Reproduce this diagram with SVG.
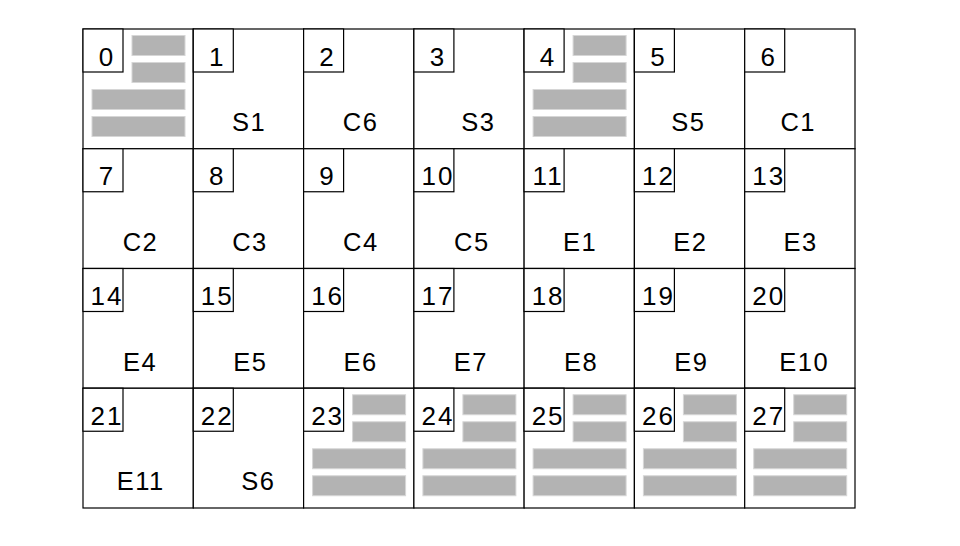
<svg xmlns="http://www.w3.org/2000/svg" xmlns:xlink="http://www.w3.org/1999/xlink" width="960" height="546" viewBox="0 0 960 546">
<style>
.cell{fill:#fff;stroke:#000;stroke-width:1.2}
.tag{fill:#fff;stroke:#000;stroke-width:1.2}
.num{font-family:"Liberation Sans",Arial,sans-serif;font-size:26px;letter-spacing:2px;fill:#000;text-anchor:middle}
.name{font-family:"Liberation Sans",Arial,sans-serif;font-size:25.5px;letter-spacing:1.5px;fill:#000;text-anchor:middle}
.bar{fill:#b3b3b3;stroke:#d6d6d6;stroke-width:1}
</style>
<defs>
<g id="bars">
<rect class="bar" x="49" y="6.5" width="53" height="20"/>
<rect class="bar" x="49" y="33.5" width="53" height="20"/>
<rect class="bar" x="9" y="60.5" width="93" height="20"/>
<rect class="bar" x="9" y="87.5" width="93" height="20"/>
</g>
</defs>
<rect x="0" y="0" width="960" height="546" fill="#fff"/>
<g id="connectors"/>
<g id="cell0" transform="translate(83,29)"><rect class="cell" width="110.3" height="119.75"/><use xlink:href="#bars" href="#bars"/><rect class="tag" width="40" height="43"/><text class="num" x="24" y="36.5">0</text></g>
<g id="cell1" transform="translate(193.3,29)"><rect class="cell" width="110.3" height="119.75"/><rect class="tag" width="40" height="43"/><text class="num" x="24" y="36.5">1</text><text class="name" x="55.9" y="102">S1</text></g>
<g id="cell2" transform="translate(303.6,29)"><rect class="cell" width="110.3" height="119.75"/><rect class="tag" width="40" height="43"/><text class="num" x="24" y="36.5">2</text><text class="name" x="57" y="102">C6</text></g>
<g id="cell3" transform="translate(413.9,29)"><rect class="cell" width="110.3" height="119.75"/><rect class="tag" width="40" height="43"/><text class="num" x="24" y="36.5">3</text><text class="name" x="64.5" y="102">S3</text></g>
<g id="cell4" transform="translate(524.1,29)"><rect class="cell" width="110.3" height="119.75"/><use xlink:href="#bars" href="#bars"/><rect class="tag" width="40" height="43"/><text class="num" x="24" y="36.5">4</text></g>
<g id="cell5" transform="translate(634.4,29)"><rect class="cell" width="110.3" height="119.75"/><rect class="tag" width="40" height="43"/><text class="num" x="24" y="36.5">5</text><text class="name" x="54" y="102">S5</text></g>
<g id="cell6" transform="translate(744.7,29)"><rect class="cell" width="110.3" height="119.75"/><rect class="tag" width="40" height="43"/><text class="num" x="24" y="36.5">6</text><text class="name" x="53.5" y="102">C1</text></g>

<g id="cell7" transform="translate(83,148.75)"><rect class="cell" width="110.3" height="119.75"/><rect class="tag" width="40" height="43"/><text class="num" x="24" y="36.5">7</text><text class="name" x="57.5" y="102">C2</text></g>
<g id="cell8" transform="translate(193.3,148.75)"><rect class="cell" width="110.3" height="119.75"/><rect class="tag" width="40" height="43"/><text class="num" x="24" y="36.5">8</text><text class="name" x="56.7" y="102">C3</text></g>
<g id="cell9" transform="translate(303.6,148.75)"><rect class="cell" width="110.3" height="119.75"/><rect class="tag" width="40" height="43"/><text class="num" x="24" y="36.5">9</text><text class="name" x="57.3" y="102">C4</text></g>
<g id="cell10" transform="translate(413.9,148.75)"><rect class="cell" width="110.3" height="119.75"/><rect class="tag" width="40" height="43"/><text class="num" x="24" y="36.5">10</text><text class="name" x="57.9" y="102">C5</text></g>
<g id="cell11" transform="translate(524.1,148.75)"><rect class="cell" width="110.3" height="119.75"/><rect class="tag" width="40" height="43"/><text class="num" x="24" y="36.5">11</text><text class="name" x="55.9" y="102">E1</text></g>
<g id="cell12" transform="translate(634.4,148.75)"><rect class="cell" width="110.3" height="119.75"/><rect class="tag" width="40" height="43"/><text class="num" x="24" y="36.5">12</text><text class="name" x="55.9" y="102">E2</text></g>
<g id="cell13" transform="translate(744.7,148.75)"><rect class="cell" width="110.3" height="119.75"/><rect class="tag" width="40" height="43"/><text class="num" x="24" y="36.5">13</text><text class="name" x="55.9" y="102">E3</text></g>

<g id="cell14" transform="translate(83,268.5)"><rect class="cell" width="110.3" height="119.75"/><rect class="tag" width="40" height="43"/><text class="num" x="24" y="36.5">14</text><text class="name" x="57" y="102">E4</text></g>
<g id="cell15" transform="translate(193.3,268.5)"><rect class="cell" width="110.3" height="119.75"/><rect class="tag" width="40" height="43"/><text class="num" x="24" y="36.5">15</text><text class="name" x="57" y="102">E5</text></g>
<g id="cell16" transform="translate(303.6,268.5)"><rect class="cell" width="110.3" height="119.75"/><rect class="tag" width="40" height="43"/><text class="num" x="24" y="36.5">16</text><text class="name" x="57" y="102">E6</text></g>
<g id="cell17" transform="translate(413.9,268.5)"><rect class="cell" width="110.3" height="119.75"/><rect class="tag" width="40" height="43"/><text class="num" x="24" y="36.5">17</text><text class="name" x="57" y="102">E7</text></g>
<g id="cell18" transform="translate(524.1,268.5)"><rect class="cell" width="110.3" height="119.75"/><rect class="tag" width="40" height="43"/><text class="num" x="24" y="36.5">18</text><text class="name" x="57" y="102">E8</text></g>
<g id="cell19" transform="translate(634.4,268.5)"><rect class="cell" width="110.3" height="119.75"/><rect class="tag" width="40" height="43"/><text class="num" x="24" y="36.5">19</text><text class="name" x="57" y="102">E9</text></g>
<g id="cell20" transform="translate(744.7,268.5)"><rect class="cell" width="110.3" height="119.75"/><rect class="tag" width="40" height="43"/><text class="num" x="24" y="36.5">20</text><text class="name" x="59.5" y="102">E10</text></g>

<g id="cell21" transform="translate(83,388.25)"><rect class="cell" width="110.3" height="119.75"/><rect class="tag" width="40" height="43"/><text class="num" x="24" y="36.5">21</text><text class="name" x="57.8" y="102">E11</text></g>
<g id="cell22" transform="translate(193.3,388.25)"><rect class="cell" width="110.3" height="119.75"/><rect class="tag" width="40" height="43"/><text class="num" x="24" y="36.5">22</text><text class="name" x="65" y="102">S6</text></g>
<g id="cell23" transform="translate(303.6,388.25)"><rect class="cell" width="110.3" height="119.75"/><use xlink:href="#bars" href="#bars"/><rect class="tag" width="40" height="43"/><text class="num" x="24" y="36.5">23</text></g>
<g id="cell24" transform="translate(413.9,388.25)"><rect class="cell" width="110.3" height="119.75"/><use xlink:href="#bars" href="#bars"/><rect class="tag" width="40" height="43"/><text class="num" x="24" y="36.5">24</text></g>
<g id="cell25" transform="translate(524.1,388.25)"><rect class="cell" width="110.3" height="119.75"/><use xlink:href="#bars" href="#bars"/><rect class="tag" width="40" height="43"/><text class="num" x="24" y="36.5">25</text></g>
<g id="cell26" transform="translate(634.4,388.25)"><rect class="cell" width="110.3" height="119.75"/><use xlink:href="#bars" href="#bars"/><rect class="tag" width="40" height="43"/><text class="num" x="24" y="36.5">26</text></g>
<g id="cell27" transform="translate(744.7,388.25)"><rect class="cell" width="110.3" height="119.75"/><use xlink:href="#bars" href="#bars"/><rect class="tag" width="40" height="43"/><text class="num" x="24" y="36.5">27</text></g>
</svg>
